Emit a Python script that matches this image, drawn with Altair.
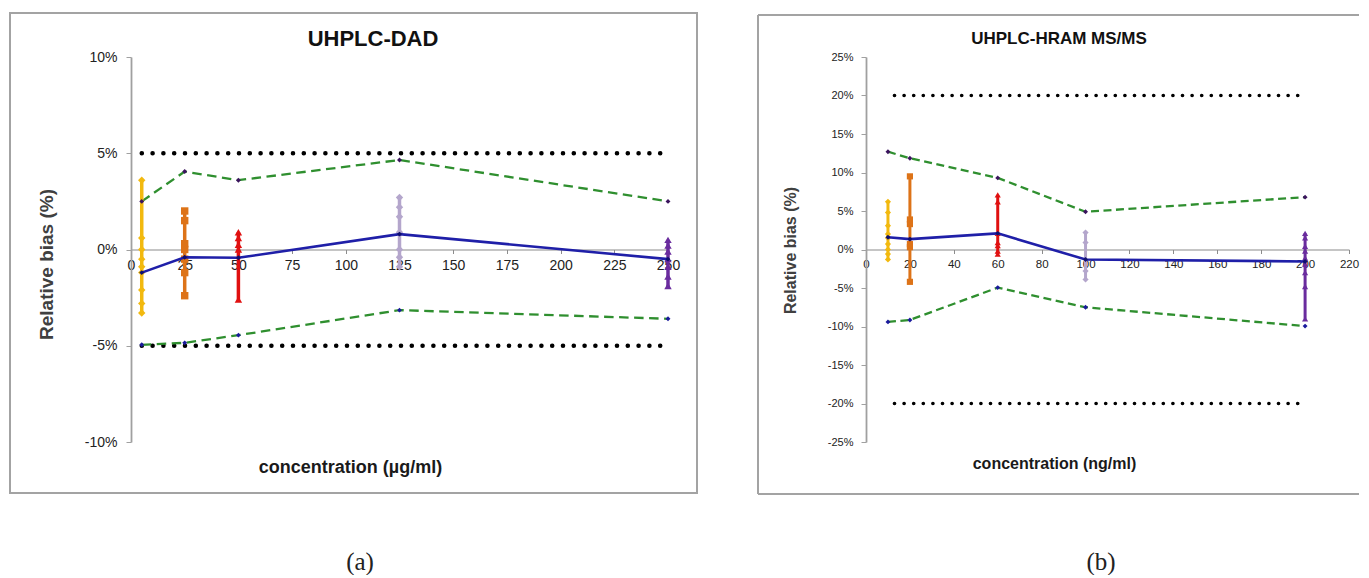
import altair as alt
import pandas as pd

# ---------------- panel (a) : UHPLC-DAD ----------------
title_a = "UHPLC-DAD"
xtitle_a = "concentration (µg/ml)"
ytitle = "Relative bias (%)"
tag_a = "(a)"
conc_a = [5, 25, 50, 125, 250]
mean_a = [-1.2, -0.4, -0.43, 0.8, -0.5]
upper_a = [2.5, 4.05, 3.6, 4.65, 2.5]
lower_a = [-4.95, -4.85, -4.45, -3.15, -3.6]
reps_a = [
    [3.6, 0.6, 0.0, -0.5, -0.9, -1.2, -2.1, -2.8, -3.3],
    [2.0, 1.5, 0.3, 0.0, -0.5, -1.2, -2.4],
    [0.9, 0.6, 0.25, 0.0, -2.6],
    [2.7, 2.2, 1.7, 0.9, 0.0, -0.4, -0.9],
    [0.5, 0.2, -0.1, -0.5, -0.9, -1.4, -1.9],
]
limit_a = 5
xticks_a = [0, 25, 50, 75, 100, 125, 150, 175, 200, 225, 250]
yticks_a = [-10, -5, 0, 5, 10]

# ---------------- panel (b) : UHPLC-HRAM MS/MS ----------------
title_b = "UHPLC-HRAM MS/MS"
xtitle_b = "concentration (ng/ml)"
tag_b = "(b)"
conc_b = [10, 20, 60, 100, 200]
mean_b = [1.6, 1.35, 2.1, -1.3, -1.55]
upper_b = [12.7, 11.85, 9.3, 4.9, 6.8]
lower_b = [-9.4, -9.15, -4.95, -7.5, -9.95]
reps_b = [
    [6.2, 4.8, 3.1, 2.0, 1.5, 0.7, 0.0, -0.6, -1.3],
    [9.5, 3.9, 3.3, 0.7, 0.3, -4.2],
    [7.1, 6.2, 2.1, 0.9, 0.5, -0.2, -0.6],
    [2.2, 0.9, -2.8, -3.9],
    [2.1, 1.5, 0.4, -0.2, -1.1, -1.9, -3.0, -4.8, -9.0],
]
limit_b = 20
xticks_b = [0, 20, 40, 60, 80, 100, 120, 140, 160, 180, 200, 220]
yticks_b = [-25, -20, -15, -10, -5, 0, 5, 10, 15, 20, 25]

series_names = ["L1", "L2", "L3", "L4", "L5"]
series_colors = ["#f2b90f", "#dd7318", "#e01010", "#b4a6cc", "#6a2c9e"]
series_shapes = ["diamond", "square", "triangle-up", "diamond", "triangle-up"]

GREEN = "#2f8f2f"
BLUE = "#1f1fa8"
FONT = "Liberation Sans"


def panel(conc, reps, mean, upper, lower, limit, xdom, ydom, xticks, yticks, s):
    W, H = s["W"], s["H"]
    rep_df = pd.DataFrame(
        [{"x": c, "y": v, "s": series_names[i]}
         for i, (c, vals) in enumerate(zip(conc, reps)) for v in vals]
    )
    mean_df = pd.DataFrame({"x": conc, "y": mean})
    up_df = pd.DataFrame({"x": conc, "y": upper})
    lo_df = pd.DataFrame({"x": conc, "y": lower})
    lim_df = pd.DataFrame(
        {"x": [conc[0], conc[-1], conc[0], conc[-1]],
         "y": [limit, limit, -limit, -limit],
         "g": ["u", "u", "l", "l"]}
    )

    xaxis = alt.Axis(
        values=xticks, offset=-(H / 2), title=s["xtitle"], titleX=s["xtx"], titleY=s["xty"],
        titleAlign="center", titleBaseline="middle", titleFontSize=s["xtfs"],
        titleFont=FONT, titleFontWeight="bold", titleColor="#1a1a1a",
        labelFontSize=s["lfs"], labelFont=FONT, labelColor="#222222", labelFlush=False,
        labelOverlap=False, labelPadding=s["xlp"], tickSize=4, tickColor="#8c8c8c",
        domainColor="#8c8c8c", domainWidth=1.2, grid=False,
    )
    yaxis = alt.Axis(
        values=yticks, labelExpr="datum.value + '%'", title=s["ytitle"],
        titleX=s["ytx"], titleY=s["yty"], titleAngle=270, titleAlign="center",
        titleBaseline="middle", titleFontSize=s["ytfs"], titleFont=FONT,
        titleFontWeight="bold", titleColor="#404040",
        labelFontSize=s["ylfs"], labelFont=FONT, labelColor="#222222", labelPadding=s["ylp"],
        tickSize=5, tickColor="#a0a0a0", domainColor="#a0a0a0", domainWidth=1.8, grid=False,
    )
    X = alt.X("x:Q", scale=alt.Scale(domain=xdom, nice=False, zero=False), axis=xaxis)
    Y = alt.Y("y:Q", scale=alt.Scale(domain=ydom, nice=False, zero=False), axis=yaxis)

    color = alt.Color("s:N", scale=alt.Scale(domain=series_names, range=series_colors), legend=None)
    shape = alt.Shape("s:N", scale=alt.Scale(domain=series_names, range=series_shapes), legend=None)

    limits = alt.Chart(lim_df).mark_line(
        color="black", strokeWidth=s["dotw"], strokeCap="round",
        strokeDash=[0.1, s["dotp"] - 0.1], strokeDashOffset=s["doto"],
    ).encode(x=X, y=Y, detail="g:N")

    layers_bounds = []
    for df in (up_df, lo_df):
        layers_bounds.append(alt.Chart(df).mark_line(
            color=GREEN, strokeWidth=2.3, strokeDash=s["dash"]).encode(x=X, y=Y))
    bounds_pts = []
    for df, mc in ((up_df, "#3b145e"), (lo_df, "#1a1a9c")):
        bounds_pts.append(alt.Chart(df).mark_point(
            shape="diamond", filled=True, size=24, opacity=1, color=mc).encode(x=X, y=Y))

    rep_line = alt.Chart(rep_df).mark_line(strokeWidth=s["repw"]).encode(
        x=X, y=Y, color=color, detail="s:N", order="y:Q"
    )
    rep_pts = alt.Chart(rep_df).mark_point(filled=True, size=s["msize"], opacity=1).encode(
        x=X, y=Y, color=color, shape=shape
    )

    mean_line = alt.Chart(mean_df).mark_line(color=BLUE, strokeWidth=2.6).encode(x=X, y=Y)
    mean_pts = alt.Chart(mean_df).mark_point(
        shape="diamond", filled=True, size=24, color="#10106e", opacity=1
    ).encode(x=X, y=Y)

    one = pd.DataFrame({"t": [s["title"]]})
    title_txt = alt.Chart(one).mark_text(
        font=FONT, fontSize=s["tfs"], fontWeight="bold", color="#111111",
        align="center", baseline="alphabetic",
    ).encode(x=alt.value(s["tx"]), y=alt.value(s["ty"]), text="t:N")

    tag = pd.DataFrame({"t": [s["tag"]]})
    tag_txt = alt.Chart(tag).mark_text(
        font="Liberation Serif", fontSize=25, color="#222222",
        align="center", baseline="alphabetic",
    ).encode(x=alt.value(s["tagx"]), y=alt.value(s["tagy"]), text="t:N")

    fl, ft, fr, fb = s["frame"]
    if s["closed"]:
        frame = [alt.Chart(one).mark_rect(fillOpacity=0, stroke="#a3a3a3", strokeWidth=2).encode(
            x=alt.value(fl), x2=alt.value(fr), y=alt.value(ft), y2=alt.value(fb))]
    else:
        fr_style = dict(color="#a3a3a3", strokeWidth=2)
        frame = [
            alt.Chart(one).mark_rule(**fr_style).encode(
                x=alt.value(fl), x2=alt.value(fr), y=alt.value(ft)),
            alt.Chart(one).mark_rule(**fr_style).encode(
                x=alt.value(fl), x2=alt.value(fr), y=alt.value(fb)),
            alt.Chart(one).mark_rule(**fr_style).encode(
                x=alt.value(fl), y=alt.value(ft), y2=alt.value(fb)),
        ]

    return alt.layer(
        *frame, title_txt, tag_txt, limits, *layers_bounds, rep_line, rep_pts,
        mean_line, mean_pts, *bounds_pts,
    ).properties(width=W, height=H)


H = 385
left = panel(
    conc_a, reps_a, mean_a, upper_a, lower_a, limit_a, [0, 250], [-10, 10], xticks_a, yticks_a,
    dict(W=537, H=H, xtitle=xtitle_a, xtx=219, xty=217.5, xtfs=18, lfs=14, xlp=5,
         ytitle=ytitle, ytx=-85, yty=207, ytfs=19, ylfs=14, ylp=9,
         dotw=4.5, dotp=10.8, doto=0, dash=[9.5, 5.5], msize=55, repw=3.5,
         title=title_a, tfs=22, tx=242, ty=-11, tag=tag_a, tagx=229, tagy=513,
         frame=(-121, -44, 566, 436), closed=True),
)
right = panel(
    conc_b, reps_b, mean_b, upper_b, lower_b, limit_b, [0, 220], [-25, 25], xticks_b, yticks_b,
    dict(W=483, H=H, xtitle=xtitle_b, xtx=188, xty=213.5, xtfs=16, lfs=11.5, xlp=5,
         ytitle=ytitle, ytx=-76, yty=193, ytfs=16, ylfs=11, ylp=8,
         dotw=3.6, dotp=9.6, doto=3.1, dash=[8, 4.5], msize=38, repw=3,
         title=title_b, tfs=17, tx=193, ty=-13, tag=tag_b, tagx=235, tagy=513,
         frame=(-108, -42, 493, 437), closed=False),
)

chart = alt.hconcat(left, right, spacing=198, bounds="flush").resolve_scale(
    x="independent", y="independent", color="independent", shape="independent"
).properties(
    padding={"left": 1, "top": 4, "right": 0, "bottom": 0}
).configure(font=FONT).configure_view(strokeWidth=0, stroke="transparent")

chart.save("out.html", embed_options={"renderer": "svg", "actions": False})
